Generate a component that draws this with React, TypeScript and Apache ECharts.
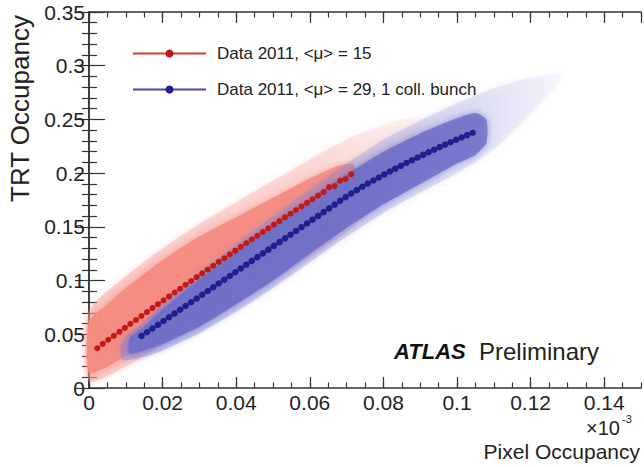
import React, { useEffect, useRef } from "react";
import * as echarts from "echarts";

// ---- Profile points (bin centres, mean TRT occupancy) ----
const redX = [0.00225,0.00375,0.00525,0.00675,0.00825,0.00975,0.01125,0.01275,0.01425,0.01575,0.01725,0.01875,0.02025,0.02175,0.02325,0.02475,0.02625,0.02775,0.02925,0.03075,0.03225,0.03375,0.03525,0.03675,0.03825,0.03975,0.04125,0.04275,0.04425,0.04575,0.04725,0.04875,0.05025,0.05175,0.05325,0.05475,0.05625,0.05775,0.05925,0.06075,0.06225,0.06375,0.06525,0.06675,0.06825,0.06975,0.07125];
const redY = [0.037,0.0411,0.0449,0.0486,0.0523,0.056,0.0597,0.0633,0.0671,0.0707,0.0744,0.078,0.0816,0.0852,0.0889,0.0924,0.0961,0.0996,0.1032,0.1067,0.1103,0.1138,0.1174,0.1208,0.1244,0.1278,0.1314,0.1348,0.1383,0.1417,0.1452,0.1486,0.1521,0.1554,0.1589,0.1622,0.1657,0.169,0.1724,0.1757,0.1791,0.1824,0.187,0.188,0.193,0.1945,0.199];

const blueX = [0.01425,0.01575,0.01725,0.01875,0.02025,0.02175,0.02325,0.02475,0.02625,0.02775,0.02925,0.03075,0.03225,0.03375,0.03525,0.03675,0.03825,0.03975,0.04125,0.04275,0.04425,0.04575,0.04725,0.04875,0.05025,0.05175,0.05325,0.05475,0.05625,0.05775,0.05925,0.06075,0.06225,0.06375,0.06525,0.06675,0.06825,0.06975,0.07125,0.07275,0.07425,0.07575,0.07725,0.07875,0.08025,0.08175,0.08325,0.08475,0.08625,0.08775,0.08925,0.09075,0.09225,0.09375,0.09525,0.09675,0.09825,0.09975,0.10125,0.10275,0.10425];
const blueY = [0.0484,0.0519,0.0554,0.0589,0.0624,0.0659,0.0694,0.0728,0.0763,0.0798,0.0833,0.0868,0.0903,0.0938,0.0973,0.1008,0.1043,0.1078,0.1113,0.1148,0.1183,0.1218,0.1253,0.1288,0.1323,0.1358,0.1393,0.1427,0.1462,0.1497,0.1532,0.1567,0.1602,0.1637,0.1672,0.1707,0.1742,0.1777,0.181,0.1842,0.1873,0.1903,0.1932,0.196,0.1988,0.2015,0.2042,0.2068,0.2094,0.212,0.2145,0.217,0.2194,0.2218,0.2242,0.2265,0.2288,0.231,0.2332,0.2354,0.2376];

// ---- Scatter cloud envelopes ----
const redCoreX = [0, 0.005, 0.01, 0.02, 0.03, 0.04, 0.05, 0.06, 0.067, 0.072];
const redCoreHi = [0.062, 0.078, 0.093, 0.119, 0.141, 0.159, 0.177, 0.195, 0.206, 0.208];
const redCoreLo = [0.014, 0.020, 0.030, 0.048, 0.068, 0.088, 0.108, 0.130, 0.148, 0.175];
const redHaloX = [0, 0.01, 0.02, 0.03, 0.04, 0.05, 0.06, 0.07, 0.08, 0.09];
const redHaloHi = [0.072, 0.104, 0.130, 0.153, 0.173, 0.193, 0.213, 0.231, 0.245, 0.252];
const redHaloLo = [0.006, 0.020, 0.040, 0.060, 0.080, 0.100, 0.122, 0.145, 0.175, 0.215];

const blueCoreX = [0.011, 0.015, 0.02, 0.03, 0.04, 0.05, 0.06, 0.07, 0.08, 0.09, 0.1, 0.105, 0.108];
const blueCoreHi = [0.046, 0.057, 0.073, 0.101, 0.127, 0.152, 0.176, 0.199, 0.220, 0.237, 0.251, 0.256, 0.250];
const blueCoreLo = [0.032, 0.035, 0.041, 0.057, 0.078, 0.100, 0.125, 0.149, 0.171, 0.190, 0.209, 0.217, 0.228];
const blueHaloX = [0.009, 0.015, 0.02, 0.03, 0.04, 0.05, 0.06, 0.07, 0.08, 0.09, 0.1, 0.11, 0.12, 0.128];
const blueHaloHi = [0.044, 0.061, 0.078, 0.107, 0.134, 0.160, 0.185, 0.209, 0.231, 0.249, 0.265, 0.279, 0.289, 0.293];
const blueHaloLo = [0.026, 0.029, 0.035, 0.051, 0.071, 0.093, 0.117, 0.141, 0.163, 0.182, 0.200, 0.222, 0.255, 0.285];

const seriesNames = ["Data 2011, <\u03BC> = 15", "Data 2011, <\u03BC> = 29, 1 coll. bunch"];

const FONT = "Liberation Sans, Arial, sans-serif";

function band(
  xs: number[], lo: number[], hi: number[],
  rgb: string, aLeft: number, aRight: number, blur: number, z: number
) {
  return {
    type: "custom",
    silent: true,
    z,
    xAxisIndex: 0,
    yAxisIndex: 0,
    data: xs.map((x, i) => [x, lo[i], hi[i]]),
    encode: { x: 0, y: [1, 2] },
    renderItem: (params: any, api: any) => {
      if (params.dataIndex !== 0) return null;
      const upper = xs.map((x, i) => api.coord([x, hi[i]]));
      const lower = xs.map((x, i) => api.coord([x, lo[i]])).reverse();
      return {
        type: "polygon",
        shape: { points: upper.concat(lower), smooth: 0.2 },
        style: {
          fill: {
            type: "linear", x: 0, y: 0, x2: 1, y2: 0,
            colorStops: [
              { offset: 0, color: `rgba(${rgb},${aLeft})` },
              { offset: 0.7, color: `rgba(${rgb},${(aLeft + aRight) / 2})` },
              { offset: 1, color: `rgba(${rgb},${aRight})` },
            ],
          },
          shadowBlur: blur,
          shadowColor: `rgba(${rgb},0.8)`,
        },
      };
    },
  };
}

export default function App() {
  const ref = useRef<HTMLDivElement>(null);
  useEffect(() => {
    if (!ref.current) return;
    const chart = echarts.init(ref.current, null, { renderer: "svg" });
    const lineCol = "#333";
    const xBase = { type: "value", min: 0, max: 0.15, gridIndex: 0, splitLine: { show: false } };
    const yBase = { type: "value", min: 0, max: 0.35, gridIndex: 0, splitLine: { show: false } };
    chart.setOption({
      animation: false,
      backgroundColor: "#fff",
      grid: { left: 89, right: 3, top: 12, bottom: 79 },
      legend: {
        orient: "vertical",
        left: 127,
        top: 40,
        itemWidth: 73,
        itemHeight: 10,
        itemGap: 19,
        data: seriesNames,
        textStyle: { fontFamily: FONT, fontSize: 17, color: "#222", padding: [0, 0, 0, 6] },
      },
      xAxis: [
        {
          ...xBase, position: "bottom", interval: 0.02,
          axisLine: { show: true, lineStyle: { color: lineCol, width: 1.5 } },
          axisTick: { show: true, inside: true, length: 11, lineStyle: { color: lineCol, width: 1.2 } },
          axisLabel: { show: true, showMaxLabel: false, margin: 4, fontFamily: FONT, fontSize: 21, color: "#222" },
        },
        {
          ...xBase, position: "bottom", interval: 0.005,
          axisLine: { show: false },
          axisTick: { show: true, inside: true, length: 5.5, lineStyle: { color: lineCol, width: 1.2 } },
          axisLabel: { show: false },
        },
        {
          ...xBase, position: "top", interval: 0.02,
          axisLine: { show: true, lineStyle: { color: lineCol, width: 1.5 } },
          axisTick: { show: true, inside: true, length: 11, lineStyle: { color: lineCol, width: 1.2 } },
          axisLabel: { show: false },
        },
        {
          ...xBase, position: "top", interval: 0.005,
          axisLine: { show: false },
          axisTick: { show: true, inside: true, length: 5.5, lineStyle: { color: lineCol, width: 1.2 } },
          axisLabel: { show: false },
        },
      ],
      yAxis: [
        {
          ...yBase, position: "left", interval: 0.05,
          axisLine: { show: true, lineStyle: { color: lineCol, width: 1.5 } },
          axisTick: { show: true, inside: true, length: 16, lineStyle: { color: lineCol, width: 1.2 } },
          minorTick: { show: true, splitNumber: 5, length: 8, lineStyle: { color: lineCol, width: 1.2 } },
          axisLabel: { show: true, margin: 4, fontFamily: FONT, fontSize: 21, color: "#222" },
        },
        {
          ...yBase, position: "right", interval: 0.05,
          axisLine: { show: true, lineStyle: { color: lineCol, width: 1.5 } },
          axisTick: { show: true, inside: true, length: 14, lineStyle: { color: lineCol, width: 1.2 } },
          minorTick: { show: true, splitNumber: 5, length: 7, lineStyle: { color: lineCol, width: 1.2 } },
          axisLabel: { show: false },
        },
      ],
      series: [
        band(redHaloX, redHaloLo, redHaloHi, "246,150,142", 0.4, 0.06, 6, 1),
        band(redCoreX, redCoreLo, redCoreHi, "244,140,130", 1, 0.85, 7, 2),
        band(blueHaloX, blueHaloLo, blueHaloHi, "130,130,212", 0.4, 0.05, 6, 3),
        band(blueCoreX, blueCoreLo, blueCoreHi, "112,112,200", 1, 0.8, 7, 4),
        {
          type: "line",
          name: seriesNames[0],
          z: 10,
          data: redX.map((x, i) => [x, redY[i]]),
          symbol: "circle",
          symbolSize: 6,
          itemStyle: { color: "rgb(196,24,20)" },
          lineStyle: { color: "rgb(214,60,48)", width: 1.5 },
        },
        {
          type: "line",
          name: seriesNames[1],
          z: 11,
          data: blueX.map((x, i) => [x, blueY[i]]),
          symbol: "circle",
          symbolSize: 6.5,
          itemStyle: { color: "rgb(30,30,140)" },
          lineStyle: { color: "rgb(70,70,175)", width: 3 },
        },
      ],
      graphic: [
        {
          type: "text",
          x: 20,
          y: 202,
          rotation: Math.PI / 2,
          style: { text: "TRT Occupancy", font: `26px ${FONT}`, fill: "#222", textAlign: "left", textVerticalAlign: "middle" },
        },
        {
          type: "text",
          right: 4,
          top: 441,
          style: { text: "Pixel Occupancy", font: `21px ${FONT}`, fill: "#222" },
        },
        {
          type: "text",
          x: 620,
          y: 428,
          style: { text: "\u00D710", font: `20px ${FONT}`, fill: "#222", textAlign: "right", textVerticalAlign: "middle" },
        },
        {
          type: "text",
          x: 622,
          y: 419,
          style: { text: "-3", font: `11px ${FONT}`, fill: "#222", textAlign: "left", textVerticalAlign: "middle" },
        },
        {
          type: "text",
          x: 394,
          y: 351,
          style: { text: "ATLAS", font: `italic bold 22px ${FONT}`, fill: "#111", textAlign: "left", textVerticalAlign: "middle" },
        },
        {
          type: "text",
          x: 479,
          y: 351,
          style: { text: "Preliminary", font: `24px ${FONT}`, fill: "#222", textAlign: "left", textVerticalAlign: "middle" },
        },
      ],
    });
    return () => chart.dispose();
  }, []);
  return <div ref={ref} style={{ width: 644, height: 467, position: "absolute", left: 0, top: 0 }} />;
}
